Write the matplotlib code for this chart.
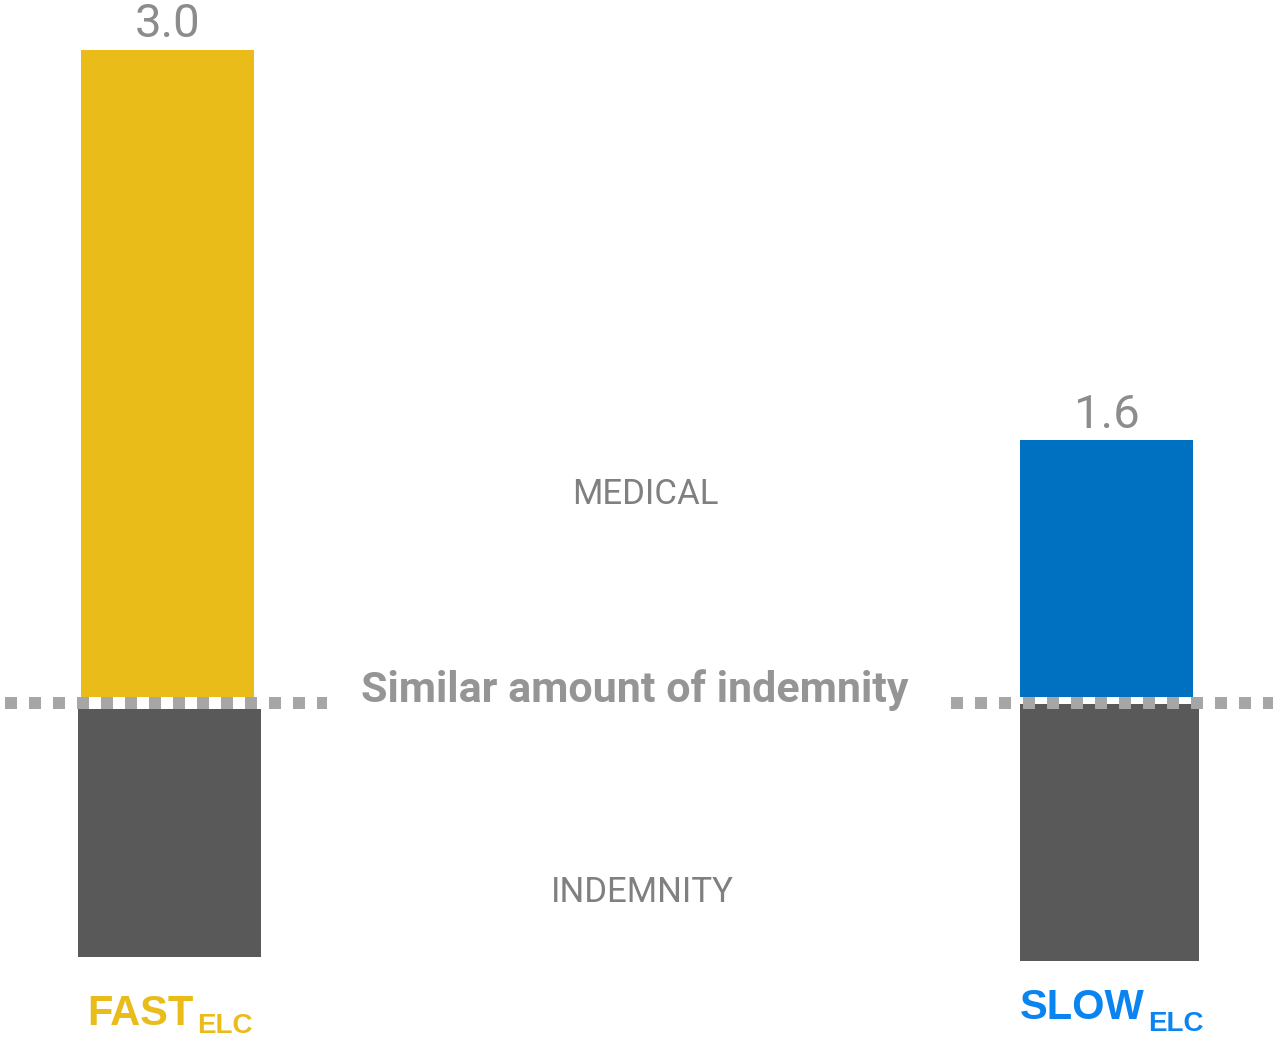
import matplotlib
matplotlib.use('Agg')
import matplotlib.pyplot as plt

# data
groups = ['FAST', 'SLOW']
medical = [3.0, 1.19]          # bar heights above the indemnity line
medical_labels = ['3.0', '1.6']
indemnity = [1.15, 1.19]       # bar heights below the line
group_colors = ['#E9BC1A', '#0070C0']
name_colors = ['#E9BC1A', '#0A84F0']

W, H = 1273, 1038
fig = plt.figure(figsize=(W / 100, H / 100), dpi=100)
ax = fig.add_axes([0, 0, 1, 1])
ax.set_xlim(-0.1784, 1.1773)
ax.set_ylim(-1.553, 3.259)
ax.axis('off')

x = [0, 1]
gap_top = 0.028
gap_bot = [0.028, 0.005]

ax.bar(x, medical, width=0.184, bottom=gap_top, color=group_colors, zorder=2)
ax.bar([0.002, 1.003], [-v for v in indemnity], width=[0.195, 0.19],
       bottom=[-g for g in gap_bot], color='#595959', zorder=2)

# dotted "similar indemnity" line, broken around the caption
for x0, x1 in [(-0.173, 0.170), (0.834, 1.18)]:
    ax.plot([x0, x1], [0, 0], color='#A6A6A6', lw=8.64, ls=(0, (1, 1)),
            dash_capstyle='butt', solid_capstyle='butt', zorder=3)

for xi, m, lab in zip(x, medical, medical_labels):
    ax.annotate(lab, (xi, m + gap_top), xytext=(0, 9), textcoords='offset points',
                ha='center', va='baseline', fontsize=34, color='#8C8C8C',
                family='Roboto')

def fx(px):
    return px / W

def fy(py):
    return 1 - py / H

ax.text(fx(645), fy(495), 'MEDICAL', transform=ax.transAxes, ha='center',
        va='center', fontsize=25, color='#808080', family='Roboto')
ax.text(fx(642), fy(893), 'INDEMNITY', transform=ax.transAxes, ha='center',
        va='center', fontsize=25, color='#808080', family='Roboto')
ax.text(fx(634.5), fy(690), 'Similar amount of indemnity', transform=ax.transAxes,
        ha='center', va='center', fontsize=31, fontweight='bold',
        color='#959595', family='Roboto')

# group names with ELC subscript
name_pos = [(194, 1025, 1033), (1145, 1019, 1031)]
for g, c, (xr, yb, ys) in zip(groups, name_colors, name_pos):
    ax.text(fx(xr), fy(yb), g, transform=ax.transAxes, ha='right',
            va='baseline', fontsize=30, fontweight='bold', color=c,
            family='Liberation Sans')
    ax.text(fx(xr + 3), fy(ys), 'ELC', transform=ax.transAxes, ha='left',
            va='baseline', fontsize=20, fontweight='bold', color=c,
            family='Liberation Sans')

fig.savefig('out.png', dpi=100)
